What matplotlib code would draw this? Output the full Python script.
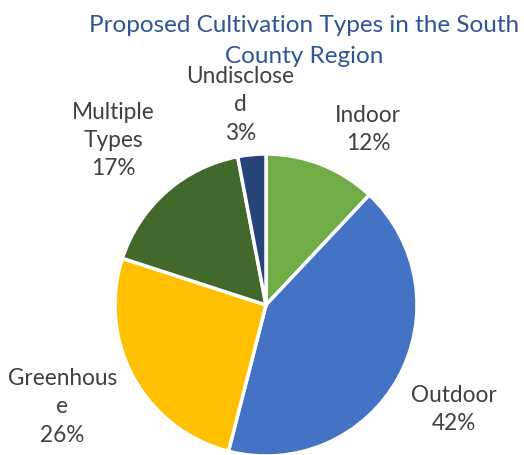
import matplotlib.pyplot as plt

# ── data ────────────────────────────────────────────────────────────────
LABELS = ['Indoor', 'Outdoor', 'Greenhous\ne', 'Multiple\nTypes', 'Undisclose\nd']
SHARES = [12, 42, 26, 17, 3]
COLORS = ['#70AD47', '#4472C4', '#FFC000', '#43682B', '#264478']

# data-label centres, in pie radii from the centre (as placed in the original)
LABEL_XY = [(0.675, 1.16), (1.245, -0.69), (-1.35, -0.675),
            (-1.01, 1.09), (-0.17, 1.325)]

TITLE = 'Proposed Cultivation Types in the South\nCounty Region'
FONT = ['Lato', 'DejaVu Sans']


def plot():
    plt.rcParams['font.family'] = FONT
    fig = plt.figure(figsize=(5.24, 4.55), dpi=100)
    W, H = 524, 455
    cx, cy, r = 266, 305, 151
    ax = fig.add_axes([(cx - r) / W, (H - cy - r) / H, 2 * r / W, 2 * r / H])

    ax.pie(SHARES, colors=COLORS, startangle=90, counterclock=False,
           radius=1.0, wedgeprops=dict(edgecolor='white', linewidth=2.5))
    ax.set_xlim(-1, 1)
    ax.set_ylim(-1, 1)
    ax.set_aspect('equal')

    for lab, val, (x, y) in zip(LABELS, SHARES, LABEL_XY):
        ax.text(x, y, f'{lab}\n{val}%', ha='center', va='center',
                fontsize=16.3, color='#404040', linespacing=1.42, clip_on=False)

    fig.text(304 / W, 1 - 41 / H, TITLE, ha='center', va='center',
             fontsize=17.5, color='#2F5597', linespacing=1.62)

    fig.savefig('out.png', dpi=100, facecolor='white')
    plt.close(fig)


if __name__ == '__main__':
    plot()
